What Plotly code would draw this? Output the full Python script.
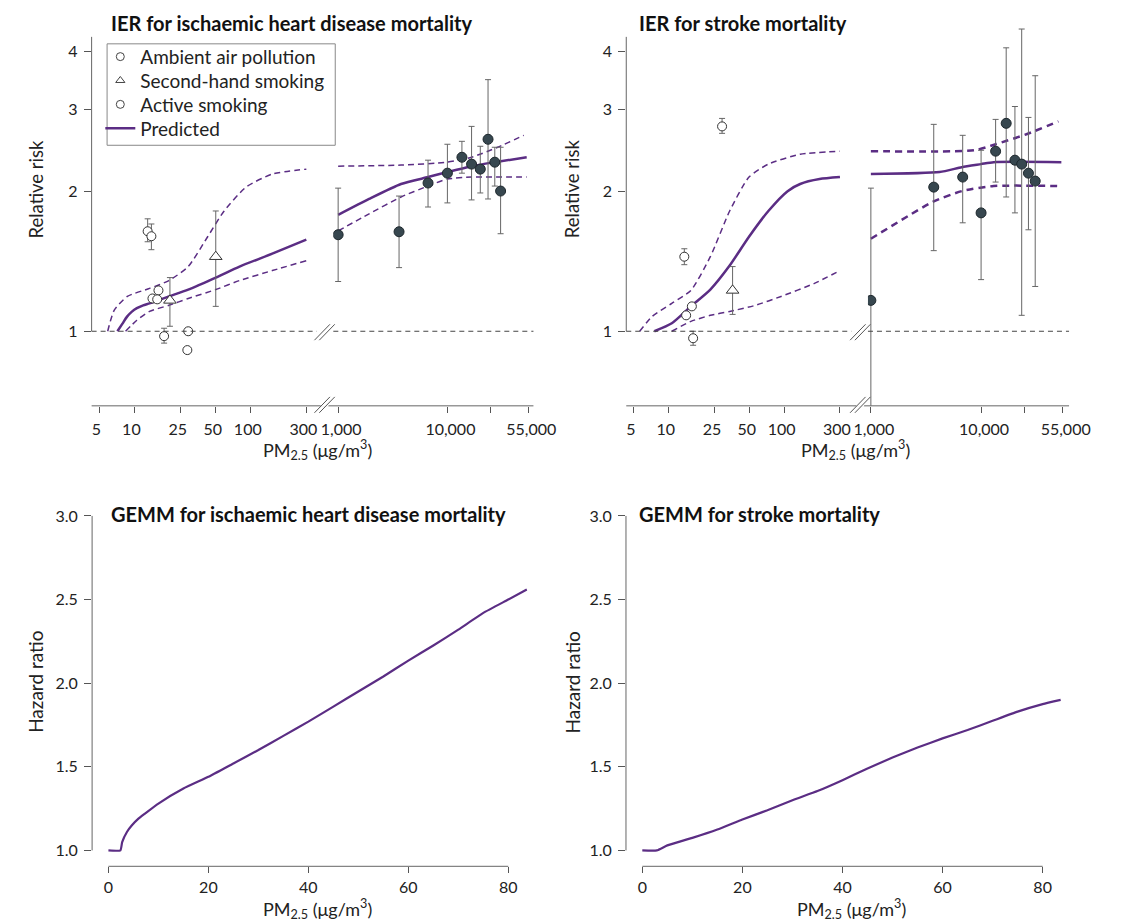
import plotly.graph_objects as go

# page has an 8px body margin: the figure is drawn 8px right/down of the window origin
OFF = 8
W, H = 1123 - OFF, 923 - OFF
def px(x): return (x - OFF) / W
def py(y): return 1 - (y - OFF) / H

PURPLE = "#5b2d84"
GREY = "#666666"
DARK = "#37474f"
FONT = "Lato"
TXT = "#222222"

# ---------------- IHD (IER) data ----------------
ihd_ap_x = [13.0, 14.0, 14.3, 16.1, 15.7, 18.0, 29.0, 28.5]
ihd_ap_y = [1.64, 1.60, 1.176, 1.224, 1.171, 0.976, 1.0, 0.911]
ihd_ap_hi = [1.744, 1.70, None, None, None, 1.015, None, None]
ihd_ap_lo = [1.557, 1.497, None, None, None, 0.943, None, None]

ihd_shs_x = [20.2, 50.0]
ihd_shs_y = [1.165, 1.446]
ihd_shs_hi = [1.304, 1.813]
ihd_shs_lo = [1.025, 1.131]

ihd_as_x = [1000, 3610, 6650, 10000, 13580, 16640, 20000, 23550, 27150, 30690]
ihd_as_y = [1.612, 1.636, 2.082, 2.186, 2.365, 2.286, 2.23, 2.585, 2.308, 2.001]
ihd_as_hi = [2.03, 1.952, 2.331, 2.522, 2.559, 2.755, 2.497, 3.472, 2.485, 2.485]
ihd_as_lo = [1.279, 1.37, 1.849, 1.887, 2.186, 1.915, 1.982, 1.924, 2.051, 1.62]

ihd_pred_lo_x = [7.15, 7.87, 8.65, 9.52, 10.5, 11.9, 13.5, 19.8, 29, 50, 80, 153, 300]
ihd_pred_lo_y = [1.0, 1.037, 1.075, 1.102, 1.121, 1.137, 1.148, 1.188, 1.229, 1.304, 1.377, 1.468, 1.573]
ihd_up_lo_x = [5.9, 6.7, 8.7, 13.5, 19.8, 29, 42.6, 59, 91, 153, 300]
ihd_up_lo_y = [1.0, 1.109, 1.188, 1.236, 1.285, 1.377, 1.596, 1.813, 2.04, 2.176, 2.23]
ihd_dn_lo_x = [8.4, 10.5, 13.5, 19.8, 29, 50, 80, 153, 300]
ihd_dn_lo_y = [1.0, 1.056, 1.103, 1.137, 1.176, 1.229, 1.285, 1.35, 1.418]

ihd_pred_hi_x = [1000, 1920, 3760, 6650, 10000, 16640, 27150, 53200]
ihd_pred_hi_y = [1.778, 1.924, 2.072, 2.144, 2.198, 2.263, 2.308, 2.365]
ihd_up_hi_x = [1000, 3760, 10000, 16640, 28840, 50000]
ihd_up_hi_y = [2.263, 2.275, 2.308, 2.365, 2.485, 2.636]
ihd_dn_hi_x = [1000, 1920, 3760, 6650, 10000, 16640, 53200]
ihd_dn_hi_y = [1.643, 1.787, 1.943, 2.051, 2.123, 2.144, 2.144]

# ---------------- Stroke (IER) data ----------------
str_ap_x = [13.6, 28.8, 15.8, 14.1, 16.2]
str_ap_y = [1.446, 2.755, 1.131, 1.082, 0.966]
str_ap_hi = [1.504, 2.866, None, None, 1.0]
str_ap_lo = [1.39, 2.662, None, None, 0.933]

str_shs_x = [35.5]
str_shs_y = [1.224]
str_shs_hi = [1.377]
str_shs_lo = [1.087]

str_as_x = [1000, 3720, 6810, 10000, 13550, 16900, 20280, 23360, 26900, 30980]
str_as_y = [1.165, 2.04, 2.144, 1.796, 2.437, 2.797, 2.331, 2.286, 2.186, 2.102]
str_as_hi = [2.03, 2.783, 2.636, 2.448, 2.852, 4.064, 3.04, 4.46, 2.88, 3.54]
str_as_lo = [0.6, 1.49, 1.71, 1.291, 2.092, 1.943, 1.796, 1.082, 1.652, 1.248]

str_pred_lo_x = [7.5, 10.6, 15.5, 22.8, 33.5, 49.2, 72.3, 106, 136, 200, 300]
str_pred_lo_y = [1.0, 1.04, 1.131, 1.229, 1.384, 1.596, 1.813, 2.0, 2.072, 2.123, 2.144]
str_up_lo_x = [5.6, 7.2, 10.6, 15.5, 22.8, 33.5, 49.2, 72.3, 136, 300]
str_up_lo_y = [1.0, 1.077, 1.148, 1.224, 1.446, 1.813, 2.144, 2.286, 2.4, 2.437]
str_dn_lo_x = [10.6, 15.5, 22.8, 33.5, 56, 93, 179, 300]
str_dn_lo_y = [1.0, 1.05, 1.082, 1.103, 1.137, 1.188, 1.266, 1.35]

str_pred_hi_x = [1000, 4200, 6680, 10000, 13000, 53500]
str_pred_hi_y = [2.176, 2.198, 2.252, 2.286, 2.308, 2.308]
str_up_hi_x = [1000, 8690, 13550, 25800, 50300]
str_up_hi_y = [2.437, 2.448, 2.522, 2.65, 2.825]
str_dn_hi_x = [1000, 3640, 6680, 13000, 53500]
str_dn_hi_y = [1.58, 1.896, 2.0, 2.051, 2.051]

# ---------------- GEMM data ----------------
gemm_ihd_x = [0, 2.4, 2.75, 3.7, 4.7, 6.0, 7.3, 10, 15, 20, 25, 30, 35, 40, 45, 50, 55, 60, 65, 70, 75, 80, 83.7]
gemm_ihd_y = [1, 1, 1.05, 1.11, 1.15, 1.19, 1.22, 1.28, 1.37, 1.44, 1.52, 1.60, 1.685, 1.77, 1.86, 1.95, 2.04, 2.135, 2.225, 2.32, 2.42, 2.50, 2.56]
gemm_str_x = [0, 2.9, 5, 10, 15, 20, 25, 30, 35, 40, 45, 50, 55, 60, 65, 70, 75, 80, 83.6]
gemm_str_y = [1, 1, 1.03, 1.075, 1.125, 1.185, 1.24, 1.30, 1.355, 1.42, 1.49, 1.555, 1.615, 1.67, 1.72, 1.775, 1.83, 1.875, 1.9]

# tick labels
ier_low_ticks = [5, 10, 25, 50, 100, 300]
ier_low_text = ["5", "10", "25", "50", "100", "300"]
ier_high_ticks = [1000, 10000, 25000, 55000]
ier_high_text = ["1,000", "10,000", " ", "55,000"]
rr_ticks = [1, 2, 3, 4]
gemm_xticks = [0, 20, 40, 60, 80]
gemm_yticks = [1.0, 1.5, 2.0, 2.5, 3.0]
gemm_ytext = ["1.0", "1.5", "2.0", "2.5", "3.0"]

# legend
legend_names = ["Ambient air pollution", "Second-hand smoking", "Active smoking", "Predicted"]
legend_symbols = ["circle-open", "triangle-up-open", "circle-open", None]

fig = go.Figure()

def err(y, hi, lo):
    plus = [None if h is None else h - v for v, h in zip(y, hi)]
    minus = [None if l is None else v - l for v, l in zip(y, lo)]
    return dict(type="data", symmetric=False, array=plus, arrayminus=minus,
                color=GREY, thickness=1, width=3)

def line(x, y, xa, ya, dash=None, width=2.5):
    fig.add_trace(go.Scatter(x=x, y=y, xaxis=xa, yaxis=ya, mode="lines",
                             line=dict(color=PURPLE, width=width, dash=dash, shape="spline", smoothing=0.6),
                             showlegend=False, hoverinfo="skip"))

def pts(x, y, hi, lo, xa, ya, symbol, fill, edge, size):
    fig.add_trace(go.Scatter(x=x, y=y, xaxis=xa, yaxis=ya, mode="markers",
                             marker=dict(symbol=symbol, size=size, color=fill,
                                         line=dict(color=edge, width=1)),
                             error_y=err(y, hi, lo), showlegend=False, hoverinfo="skip"))

# IHD IER
line(ihd_up_lo_x, ihd_up_lo_y, "x", "y", dash="6px,4px", width=1.5)
line(ihd_dn_lo_x, ihd_dn_lo_y, "x", "y", dash="6px,4px", width=1.5)
line(ihd_pred_lo_x, ihd_pred_lo_y, "x", "y")
line(ihd_up_hi_x, ihd_up_hi_y, "x2", "y", dash="6px,4px", width=1.5)
line(ihd_dn_hi_x, ihd_dn_hi_y, "x2", "y", dash="6px,4px", width=1.5)
line(ihd_pred_hi_x, ihd_pred_hi_y, "x2", "y")
pts(ihd_ap_x, ihd_ap_y, ihd_ap_hi, ihd_ap_lo, "x", "y", "circle", "white", "#333", 9)
pts(ihd_shs_x, ihd_shs_y, ihd_shs_hi, ihd_shs_lo, "x", "y", "triangle-up", "white", "#333", 11)
pts(ihd_as_x, ihd_as_y, ihd_as_hi, ihd_as_lo, "x2", "y", "circle", DARK, "#1e282d", 10)

# Stroke IER
line(str_up_lo_x, str_up_lo_y, "x3", "y2", dash="6px,4px", width=1.5)
line(str_dn_lo_x, str_dn_lo_y, "x3", "y2", dash="6px,4px", width=1.5)
line(str_pred_lo_x, str_pred_lo_y, "x3", "y2")
line(str_up_hi_x, str_up_hi_y, "x4", "y2", dash="7px,5px", width=2.5)
line(str_dn_hi_x, str_dn_hi_y, "x4", "y2", dash="7px,5px", width=2.5)
line(str_pred_hi_x, str_pred_hi_y, "x4", "y2")
pts(str_ap_x, str_ap_y, str_ap_hi, str_ap_lo, "x3", "y2", "circle", "white", "#333", 9)
pts(str_shs_x, str_shs_y, str_shs_hi, str_shs_lo, "x3", "y2", "triangle-up", "white", "#333", 11)
pts(str_as_x, str_as_y, str_as_hi, str_as_lo, "x4", "y2", "circle", DARK, "#1e282d", 10)

# GEMM
fig.add_trace(go.Scatter(x=gemm_ihd_x, y=gemm_ihd_y, xaxis="x5", yaxis="y3", mode="lines",
                         line=dict(color=PURPLE, width=2.2, shape="spline", smoothing=0.4),
                         showlegend=False, hoverinfo="skip"))
fig.add_trace(go.Scatter(x=gemm_str_x, y=gemm_str_y, xaxis="x6", yaxis="y4", mode="lines",
                         line=dict(color=PURPLE, width=2.2, shape="spline", smoothing=0.4),
                         showlegend=False, hoverinfo="skip"))

# legend entries: one legend per row so the row spacing matches the reference box
legend_rows_y = [52, 76, 100, 124]
legend_keys = ["legend", "legend2", "legend3", "legend4"]
for name, sym, key in zip(legend_names, legend_symbols, legend_keys):
    if sym is not None:
        fig.add_trace(go.Scatter(x=[None], y=[None], xaxis="x", yaxis="y", mode="markers", name=name,
                                 legend=key,
                                 marker=dict(symbol=sym, size=8, color="#444", line=dict(width=1))))
    else:
        fig.add_trace(go.Scatter(x=[None], y=[None], xaxis="x", yaxis="y", mode="lines", name=name,
                                 legend=key, line=dict(color=PURPLE, width=2.5)))

legend_layout = {}
for key, ry in zip(legend_keys, legend_rows_y):
    legend_layout[key] = dict(x=px(89), y=py(ry), xanchor="left", yanchor="middle",
                              bgcolor="rgba(0,0,0,0)", borderwidth=0,
                              font=dict(family=FONT, size=19, color=TXT))

tickfont = dict(family=FONT, size=16, color=TXT)
common_x = dict(type="log", showline=False, showgrid=False, zeroline=False, ticks="outside",
                ticklen=6, tickcolor="#555", tickwidth=1, tickfont=tickfont, ticklabelstandoff=3)
ydom_top = [py(403), py(15)]
yrange_top = [-(403 - 328) / 468, (328 - 15) / 468]
common_y = dict(type="log", showline=False, showgrid=False, zeroline=False, ticks="outside",
                ticklen=7, tickcolor="#555", tickwidth=1, tickfont=tickfont, ticklabelstandoff=3,
                tickvals=rr_ticks, ticktext=[str(t) for t in rr_ticks],
                domain=ydom_top, range=yrange_top)

gx = dict(showline=False, showgrid=False, zeroline=False, ticks="outside", ticklen=6,
          tickcolor="#555", tickwidth=1, tickfont=tickfont, tickvals=gemm_xticks,
          ticktext=[str(t) for t in gemm_xticks])
gy = dict(showline=False, showgrid=False, zeroline=False, ticks="outside", ticklen=7,
          tickcolor="#555", tickwidth=1, tickfont=tickfont, tickvals=gemm_yticks,
          ticktext=gemm_ytext, domain=[py(866), py(508)], ticklabelstandoff=3,
          range=[1 - (866 - 850) / 168.2, 3.0 + (513.7 - 508) / 168.2])

fig.update_layout(
    width=W, height=H, margin=dict(l=0, r=0, t=0, b=0),
    paper_bgcolor="white", plot_bgcolor="white",
    font=dict(family=FONT, color=TXT),
    xaxis=dict(common_x, domain=[px(80), px(313)], range=[0.699 - 8 / 120.4, 0.699 + (313 - 88) / 120.4],
               tickvals=ier_low_ticks, ticktext=ier_low_text, anchor="y", ticklabelshift=-3),
    xaxis2=dict(common_x, domain=[px(330), px(537)], range=[3 - 5 / 113, 4 + (537 - 448) / 113],
                tickvals=ier_high_ticks, ticktext=ier_high_text, anchor="y", ticklabelshift=3),
    yaxis=dict(common_y, anchor="x"),
    xaxis3=dict(common_x, domain=[px(633), px(866)], range=[0.699 - 8 / 119.8, 0.699 + (866 - 641) / 119.8],
                tickvals=ier_low_ticks, ticktext=ier_low_text, anchor="y2", ticklabelshift=-3),
    xaxis4=dict(common_x, domain=[px(883), px(1091)], range=[3 - 3 / 114, 4 + (1091 - 1000) / 114],
                tickvals=ier_high_ticks, ticktext=ier_high_text, anchor="y2", ticklabelshift=3),
    yaxis2=dict(common_y, anchor="x3"),
    xaxis5=dict(gx, domain=[px(80.5), px(531)], range=[(80.5 - 97.4) / 5.17, (531 - 97.4) / 5.17], anchor="y3"),
    yaxis3=dict(gy, anchor="x5"),
    xaxis6=dict(gx, domain=[px(632.7), px(1090)], range=[(632.7 - 649.6) / 5.176, (1090 - 649.6) / 5.176], anchor="y4"),
    yaxis4=dict(gy, anchor="x6"),
    showlegend=True,
    **legend_layout,
)

shapes = []
AX = dict(color="#666", width=1)
# legend frame
shapes.append(dict(type="rect", xref="paper", yref="paper", x0=px(96), x1=px(332), y0=py(141), y1=py(39),
                   line=dict(color="#888", width=1), fillcolor="rgba(0,0,0,0)"))
for xa, ya, x_left, x_right in [("x", "y", 80, 537), ("x3", "y2", 633, 1091)]:
    shapes.append(dict(type="line", xref=f"{xa} domain", yref=ya, x0=0, x1=0, y0=1, y1=10 ** ((328 - 32) / 468), line=AX))
    shapes.append(dict(type="line", xref="paper", yref=f"{ya} domain", x0=px(x_left), x1=px(x_right), y0=0, y1=0, line=AX))
for xa, ya in [("x", "y"), ("x2", "y"), ("x3", "y2"), ("x4", "y2")]:
    shapes.append(dict(type="line", xref=f"{xa} domain", yref=ya, x0=0, x1=1, y0=1, y1=1,
                       line=dict(color="#444", width=1, dash="5px,4px")))
# axis breaks
for cx in [321, 875]:
    for cy in [402, 329]:
        shapes.append(dict(type="rect", xref="paper", yref="paper", x0=px(cx - 4), x1=px(cx + 4),
                           y0=py(cy + 2), y1=py(cy - 2), line=dict(width=0), fillcolor="white"))
        for dx in (-2.5, 2.5):
            shapes.append(dict(type="line", xref="paper", yref="paper",
                               x0=px(cx - 8 + dx), y0=py(cy + 8), x1=px(cx + 8 + dx), y1=py(cy - 8),
                               line=dict(color="#555", width=1)))
for xa, ya in [("x5", "y3"), ("x6", "y4")]:
    shapes.append(dict(type="line", xref=f"{xa} domain", yref=ya, x0=0, x1=0, y0=1.0, y1=3.0, line=AX))
    shapes.append(dict(type="line", xref=xa, yref=f"{ya} domain", x0=0, x1=80, y0=0, y1=0, line=AX))
fig.update_layout(shapes=shapes)

ann = []
def text(x, y, s, size=18, bold=False, anchor="left", angle=0):
    ann.append(dict(xref="paper", yref="paper", x=px(x), y=py(y), text=f"<b>{s}</b>" if bold else s,
                    showarrow=False, xanchor=anchor, yanchor="middle", textangle=angle,
                    font=dict(family=FONT, size=size, color="#111" if bold else TXT)))

text(98, 18, "IER for ischaemic heart disease mortality", size=20, bold=True)
text(644, 18, "IER for stroke mortality", size=20, bold=True)
text(98, 512, "GEMM for ischaemic heart disease mortality", size=20, bold=True)
text(644, 512, "GEMM for stroke mortality", size=20, bold=True)
xt = "PM<sub>2.5</sub> (μg/m<sup>3</sup>)"
text(314, 447, xt, size=18, anchor="center")
text(870, 447, xt, size=18, anchor="center")
text(314, 909, xt, size=18, anchor="center")
text(866, 909, xt, size=18, anchor="center")
text(22, 185, "Relative risk", size=18.5, anchor="center", angle=-90)
text(577, 185, "Relative risk", size=18.5, anchor="center", angle=-90)
text(22, 681, "Hazard ratio", size=19, anchor="center", angle=-90)
text(577, 681, "Hazard ratio", size=19, anchor="center", angle=-90)
fig.update_layout(annotations=ann)

fig.write_html("out.html")
